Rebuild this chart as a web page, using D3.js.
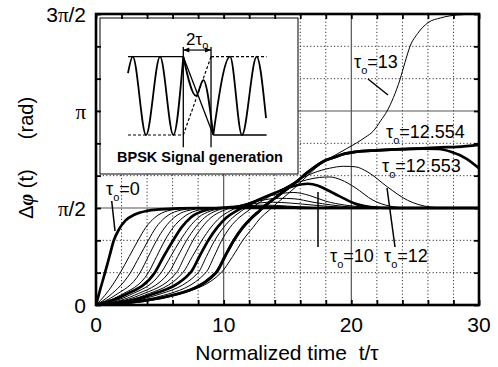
<!DOCTYPE html>
<html>
<head>
<meta charset="utf-8">
<script src="https://cdn.jsdelivr.net/npm/d3@7"></script>
<style>
body { margin: 0; background: #fff; }
text { font-family: "Liberation Sans", Arial, Helvetica, sans-serif; }
</style>
</head>
<body>
<script>
// time is t/tau, phase is in units of pi/2 (1 = pi/2, 2 = pi, 3 = 3pi/2)
var xTickValues = [0, 2, 4, 6, 8, 10, 12, 14, 16, 18, 20, 22, 24, 26, 28, 30];
var xLabelValues = [0, 10, 20, 30];
var xLabels = ["0", "10", "20", "30"];
var yTickValues = [0, 1/3, 2/3, 1, 4/3, 5/3, 2, 7/3, 8/3, 3];
var yLabelValues = [0, 1, 2, 3];
var yLabels = [["0", ""], ["", "π", "/2"], ["", "π", ""], ["3", "π", "/2"]];
var xMajor = [10, 20];
var yMajor = [1, 2];

var tauValues = ["0", "1", "2", "3", "4", "5", "6", "7", "8", "9", "10", "11", "12", "12.553", "12.554", "13"];
var thickTaus = ["0", "5", "10", "12.553", "12.554"];

var phi_0 = [[0,0],[0.35,0.17],[0.7,0.33],[1.05,0.5],[1.4,0.667],[1.8,0.78],[2.3,0.87],[3,0.93],[4,0.97],[5,0.985],[6.5,0.997],[8,1],[30,1]];
var phi_1 = [[0,0],[0.7,0.1],[1.9,0.333],[2.6,0.5],[3.3,0.667],[3.9,0.8],[4.6,0.9],[5.6,0.97],[7,0.995],[9,1],[30,1]];
var phi_2 = [[0,0],[1.1,0.1],[2.7,0.333],[3.4,0.5],[4.1,0.667],[4.7,0.8],[5.4,0.9],[6.4,0.97],[7.8,0.995],[10,1],[30,1]];
var phi_3 = [[0,0],[1.5,0.1],[3.45,0.333],[4.1,0.5],[4.75,0.667],[5.4,0.8],[6.1,0.9],[7.1,0.97],[8.5,0.995],[10.5,1],[30,1]];
var phi_4 = [[0,0],[1.9,0.1],[4.1,0.333],[4.75,0.5],[5.4,0.667],[6.05,0.8],[6.8,0.9],[7.8,0.97],[9.2,0.998],[11,1.005],[13,1],[30,1]];
var phi_5 = [[0,0],[2.2,0.1],[4.6,0.333],[5.3,0.5],[6.05,0.667],[6.7,0.8],[7.4,0.9],[8.4,0.97],[9.6,1],[11.5,1.012],[13,1.012],[15,1.005],[17,1],[30,1]];
var phi_6 = [[0,0],[2.6,0.1],[5.1,0.333],[5.85,0.5],[6.6,0.667],[7.3,0.8],[8,0.9],[9,0.97],[10.2,1],[12,1.025],[13.3,1.03],[15,1.02],[17,1.005],[19,1],[30,1]];
var phi_7 = [[0,0],[3,0.1],[5.7,0.333],[6.4,0.5],[7.1,0.667],[7.8,0.8],[8.5,0.9],[9.4,0.97],[10.5,1.01],[12,1.04],[13.8,1.06],[15.3,1.05],[17,1.03],[19,1.01],[21,1],[30,1]];
var phi_8 = [[0,0],[3.4,0.1],[6.3,0.333],[6.95,0.5],[7.6,0.667],[8.3,0.8],[9,0.9],[9.9,0.97],[10.8,1.01],[12.3,1.06],[14.3,1.1],[15.5,1.095],[17,1.06],[18.5,1.03],[20,1.01],[21.5,1],[30,1]];
var phi_9 = [[0,0],[3.8,0.1],[6.8,0.333],[7.55,0.5],[8.3,0.667],[9,0.8],[9.7,0.9],[10.5,0.97],[11.3,1.02],[12.8,1.09],[14.5,1.15],[15.5,1.16],[16.7,1.13],[18,1.07],[19.5,1.03],[21,1.01],[22.5,1],[30,1]];
var phi_10 = [[0,0],[4.2,0.1],[7.4,0.333],[8.1,0.5],[8.8,0.667],[9.5,0.8],[10.2,0.9],[11,0.97],[11.7,1.02],[13,1.1],[14.5,1.18],[15.6,1.23],[16.6,1.25],[17.4,1.23],[18.2,1.18],[19.1,1.12],[20.4,1.04],[21.5,1.01],[23,1],[30,1]];
var phi_11 = [[0,0],[4.7,0.1],[8,0.333],[8.65,0.5],[9.3,0.667],[10,0.8],[10.7,0.9],[11.4,0.97],[12.1,1.03],[13.3,1.11],[14.5,1.19],[15.5,1.25],[16.5,1.29],[17.5,1.315],[18.3,1.32],[19.2,1.29],[20.3,1.21],[21.7,1.08],[23,1.02],[24.5,1],[30,1]];
var phi_12 = [[0,0],[5.3,0.1],[8.6,0.333],[9.25,0.5],[9.85,0.667],[10.5,0.8],[11.2,0.9],[11.9,0.97],[12.5,1.03],[13.6,1.12],[14.8,1.21],[16,1.3],[17,1.36],[18.3,1.41],[19.4,1.43],[20.3,1.425],[21.3,1.37],[22.8,1.22],[24.4,1.08],[26.2,1.01],[27.5,1],[30,1]];
var phi_12553 = [[0,0],[6,0.1],[9.4,0.333],[10.1,0.5],[10.8,0.667],[11.5,0.8],[12.2,0.9],[12.8,0.97],[13.4,1.04],[14.3,1.13],[15,1.2],[15.7,1.27],[16.5,1.36],[17.2,1.43],[17.8,1.48],[18.6,1.52],[19.5,1.56],[20.4,1.58],[22,1.595],[23.5,1.605],[25.6,1.612],[26.8,1.608],[27.8,1.58],[29,1.51],[30,1.41]];
var phi_12554 = [[0,0],[6,0.1],[9.4,0.333],[10.1,0.5],[10.8,0.667],[11.5,0.8],[12.2,0.9],[12.8,0.97],[13.4,1.04],[14.3,1.13],[15,1.2],[15.7,1.27],[16.5,1.36],[17.2,1.43],[17.8,1.48],[18.6,1.52],[19.5,1.56],[20.4,1.58],[22,1.595],[23.5,1.605],[25.6,1.615],[27,1.625],[28.3,1.63],[30,1.65]];
var phi_13 = [[0,0],[6.6,0.12],[9.8,0.333],[10.7,0.5],[11.5,0.667],[12.3,0.8],[12.9,0.9],[13.5,0.97],[14,1.03],[14.8,1.12],[15.5,1.2],[16.3,1.3],[17.2,1.41],[18,1.49],[18.8,1.55],[19.6,1.61],[20.4,1.67],[21.1,1.73],[21.7,1.79],[22.3,1.9],[22.8,2],[23.3,2.14],[23.8,2.32],[24.2,2.5],[24.6,2.667],[25.2,2.8],[26,2.91],[27,2.96],[28.3,2.99],[30,3]];
var phiSeries = [phi_0, phi_1, phi_2, phi_3, phi_4, phi_5, phi_6, phi_7, phi_8, phi_9, phi_10, phi_11, phi_12, phi_12553, phi_12554, phi_13];

// inset sketch: x in arbitrary units 0..100, y is normalised amplitude -1..1
var insetWaveBefore = [[0,0.58],[3.4,1],[12.9,-1],[22.9,1],[32.4,-1],[39.5,1]];
var insetWaveSwitch = [[39.5,1],[48.6,0],[53.8,0.4],[60.9,-1]];
var insetWaveAfter = [[60.9,-1],[72.9,1],[81.4,-1],[91.9,1],[98.6,-0.57]];
var insetSolid = [[[0,1],[39.5,1]], [[60.9,-1],[99,-1]], [[39.5,1],[60.9,-1]], [[39.5,1.25],[39.5,-1.31]], [[59.3,1.25],[59.3,-1.31]]];
var insetDashed = [[[0,-1],[39.5,-1]], [[59.3,1],[99,1]], [[39.5,-1],[59.3,1]]];
var insetArrow = [[39.5,1.17],[59.3,1.17]];

var w = 498, h = 367;
var svg = d3.select("body").append("svg").attr("width", w).attr("height", h);

var x = d3.scaleLinear().domain([0, 30]).range([96, 479]);
var y = d3.scaleLinear().domain([0, 3]).range([305, 14]);

// grid
var grid = svg.append("g");
grid.selectAll(".vminor").data(xTickValues.filter(function (d) { return d > 0 && d < 30 && xMajor.indexOf(d) < 0; }))
    .enter().append("line")
    .attr("x1", function (d) { return x(d); }).attr("x2", function (d) { return x(d); })
    .attr("y1", y(0)).attr("y2", y(3))
    .attr("stroke", "#333").attr("stroke-width", 1).attr("stroke-dasharray", "1.2,2.2");
grid.selectAll(".hminor").data(yTickValues.filter(function (d) { return d > 0 && d < 3 && yMajor.indexOf(d) < 0; }))
    .enter().append("line")
    .attr("y1", function (d) { return y(d); }).attr("y2", function (d) { return y(d); })
    .attr("x1", x(0)).attr("x2", x(30))
    .attr("stroke", "#333").attr("stroke-width", 1).attr("stroke-dasharray", "1.2,2.2");
grid.selectAll(".vmajor").data(xMajor).enter().append("line")
    .attr("x1", function (d) { return x(d); }).attr("x2", function (d) { return x(d); })
    .attr("y1", y(0)).attr("y2", y(3))
    .attr("stroke", "#555").attr("stroke-width", 1.2);
grid.selectAll(".hmajor").data(yMajor).enter().append("line")
    .attr("y1", function (d) { return y(d); }).attr("y2", function (d) { return y(d); })
    .attr("x1", x(0)).attr("x2", x(30))
    .attr("stroke", "#555").attr("stroke-width", 1.2);

// curves
svg.append("clipPath").attr("id", "plotclip").append("rect")
    .attr("x", x(0)).attr("y", y(3)).attr("width", x(30) - x(0)).attr("height", y(0) - y(3));

var line = d3.line()
    .x(function (d) { return x(d[0]); })
    .y(function (d) { return y(d[1]); })
    .curve(d3.curveMonotoneX);

svg.append("g").attr("clip-path", "url(#plotclip)")
    .selectAll("path").data(phiSeries).enter().append("path")
    .attr("d", line)
    .attr("fill", "none")
    .attr("stroke", "#000")
    .attr("stroke-linejoin", "round")
    .attr("stroke-width", function (d, i) { return thickTaus.indexOf(tauValues[i]) >= 0 ? 2.7 : 1; });

// inset
var ix = d3.scaleLinear().domain([0, 100]).range([128, 268]);
var iy = d3.scaleLinear().domain([-1, 1]).range([135, 56.7]);
var inset = svg.append("g");
inset.append("rect").attr("x", 100).attr("y", 18).attr("width", 198).attr("height", 156)
    .attr("fill", "#fff").attr("stroke", "#000").attr("stroke-width", 1);

var iline = d3.line().x(function (d) { return ix(d[0]); }).y(function (d) { return iy(d[1]); });
var iwave = d3.line().x(function (d) { return ix(d[0]); }).y(function (d) { return iy(d[1]); }).curve(d3.curveMonotoneX);

inset.selectAll(".wave").data([insetWaveBefore, insetWaveSwitch, insetWaveAfter]).enter().append("path")
    .attr("d", iwave).attr("fill", "none").attr("stroke", "#000").attr("stroke-width", 1.8);
inset.selectAll(".solid").data(insetSolid).enter().append("path")
    .attr("d", iline).attr("fill", "none").attr("stroke", "#000").attr("stroke-width", 1.3);
inset.selectAll(".dashed").data(insetDashed).enter().append("path")
    .attr("d", iline).attr("fill", "none").attr("stroke", "#000").attr("stroke-width", 1.2)
    .attr("stroke-dasharray", "3,2");

inset.append("path").attr("d", iline(insetArrow)).attr("stroke", "#000").attr("stroke-width", 1.2);
[0, 1].forEach(function (k) {
    var p = insetArrow[k], dir = k === 0 ? 1 : -1;
    var px = ix(p[0]), py = iy(p[1]);
    inset.append("path")
        .attr("d", "M" + px + "," + py + "L" + (px + dir * 6) + "," + (py - 2.5) + "L" + (px + dir * 6) + "," + (py + 2.5) + "Z")
        .attr("fill", "#000");
});

var lbl2 = inset.append("text").attr("x", 186).attr("y", 45).attr("font-size", 17).text("2τ");
lbl2.append("tspan").attr("dy", 4).attr("font-size", 11).text("o");

inset.append("text").attr("x", 200).attr("y", 162).attr("text-anchor", "middle")
    .attr("font-size", 14.5).attr("font-weight", "bold").text("BPSK Signal generation");

// frame + ticks
svg.append("rect").attr("x", x(0)).attr("y", y(3)).attr("width", x(30) - x(0)).attr("height", y(0) - y(3))
    .attr("fill", "none").attr("stroke", "#000").attr("stroke-width", 2.6);

var axB = svg.append("g").attr("transform", "translate(0," + y(0) + ")")
    .call(d3.axisBottom(x).tickValues(xTickValues).tickSize(-5).tickFormat(""));
var axT = svg.append("g").attr("transform", "translate(0," + y(3) + ")")
    .call(d3.axisTop(x).tickValues(xTickValues).tickSize(-5).tickFormat(""));
var axL = svg.append("g").attr("transform", "translate(" + x(0) + ",0)")
    .call(d3.axisLeft(y).tickValues(yTickValues).tickSize(-5).tickFormat(""));
var axR = svg.append("g").attr("transform", "translate(" + x(30) + ",0)")
    .call(d3.axisRight(y).tickValues(yTickValues).tickSize(-5).tickFormat(""));
[axB, axT, axL, axR].forEach(function (a) {
    a.select(".domain").remove();
    a.selectAll("line").attr("stroke", "#000").attr("stroke-width", 1.8);
});

// tick labels
svg.selectAll(".xl").data(xLabelValues).enter().append("text")
    .attr("x", function (d) { return x(d); }).attr("y", 332)
    .attr("text-anchor", "middle").attr("font-size", 21)
    .text(function (d, i) { return xLabels[i]; });

svg.selectAll(".yl").data(yLabelValues).enter().append("text")
    .attr("x", 86).attr("y", function (d) { return y(d) + 7.5; })
    .attr("text-anchor", "end").attr("font-size", 21)
    .each(function (d, i) {
        var t = d3.select(this), parts = yLabels[i];
        t.append("tspan").text(parts[0]);
        if (parts[1]) t.append("tspan").style("font-family", "'Liberation Serif', 'Times New Roman', serif").text(parts[1]);
        if (parts[2]) t.append("tspan").text(parts[2]);
    });

// axis titles
svg.append("text").attr("x", 287).attr("y", 360).attr("text-anchor", "middle").attr("font-size", 21)
    .text("Normalized time\u00a0\u00a0t/τ");

var yt = svg.append("g").attr("transform", "translate(33,155) rotate(-90)");
var yt1 = yt.append("text").attr("x", -39).attr("y", 0).attr("text-anchor", "middle").attr("font-size", 20);
yt1.append("tspan").text("Δ");
yt1.append("tspan").attr("font-style", "italic").attr("font-weight", "bold").style("font-family", "'Liberation Serif', serif").text("φ");
yt1.append("tspan").text("\u00a0(t)");
yt.append("text").attr("x", 37).attr("y", 0).attr("text-anchor", "middle").attr("font-size", 20).text("(rad)");

// curve labels with leader lines
var tauLabels = [
    { tau: "0", x: 106, y: 195, lx1: 111.7, ly1: 201, lx2: 115, ly2: 231 },
    { tau: "13", x: 354, y: 68, lx1: 368, ly1: 79, lx2: 388, ly2: 95 },
    { tau: "12.554", x: 386, y: 138 },
    { tau: "12.553", x: 382, y: 172 },
    { tau: "10", x: 330, y: 262, lx1: 318, ly1: 247, lx2: 318, ly2: 192 },
    { tau: "12", x: 384, y: 262, lx1: 395, ly1: 247, lx2: 387, ly2: 188 }
];
tauLabels.forEach(function (l) {
    var t = svg.append("text").attr("x", l.x).attr("y", l.y).attr("font-size", 18);
    t.append("tspan").text("τ");
    t.append("tspan").attr("dy", 6).attr("font-size", 11).text("o");
    t.append("tspan").attr("dy", -6).text("=" + l.tau);
    if (l.lx1 !== undefined) {
        svg.append("line").attr("x1", l.lx1).attr("y1", l.ly1).attr("x2", l.lx2).attr("y2", l.ly2)
            .attr("stroke", "#000").attr("stroke-width", 1.5);
    }
});
</script>
</body>
</html>
